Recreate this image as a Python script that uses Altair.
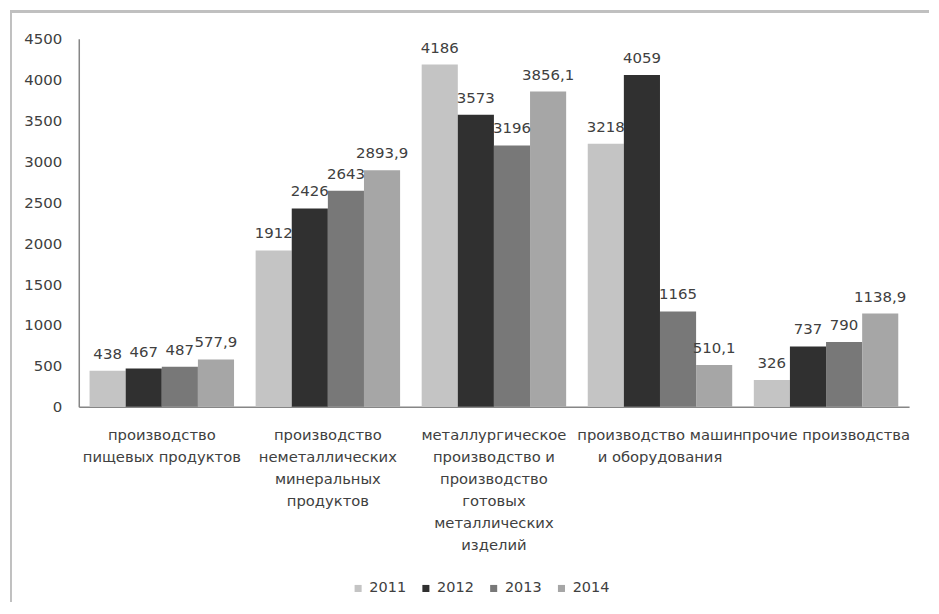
import altair as alt
import pandas as pd

FONT = "DejaVu Sans"

categories = [
    "производство|пищевых продуктов",
    "производство|неметаллических|минеральных|продуктов",
    "металлургическое|производство и|производство|готовых|металлических|изделий",
    "производство машин|и оборудования",
    "прочие производства",
]
years = ["2011", "2012", "2013", "2014"]
v2011 = [438, 1912, 4186, 3218, 326]
v2012 = [467, 2426, 3573, 4059, 737]
v2013 = [487, 2643, 3196, 1165, 790]
v2014 = [577.9, 2893.9, 3856.1, 510.1, 1138.9]
colors = ["#c4c4c4", "#303030", "#787878", "#a6a6a6"]
y_ticks = [0, 500, 1000, 1500, 2000, 2500, 3000, 3500, 4000, 4500]

rows = []
for yr, vals in zip(years, [v2011, v2012, v2013, v2014]):
    for c, v in zip(categories, vals):
        rows.append({"cat": c, "year": yr, "value": v})
df = pd.DataFrame(rows)

W, H = 833, 369

base = alt.Chart(df).encode(
    x=alt.X(
        "cat:N",
        sort=categories,
        title=None,
        scale=alt.Scale(paddingInner=0.13, paddingOuter=0.065),
        axis=alt.Axis(
            labelExpr="split(datum.label, '|')",
            labelAngle=0,
            labelFont=FONT,
            labelFontSize=14.8,
            labelColor="#404040",
            labelLineHeight=22,
            labelPadding=21,
            labelLimit=0,
            labelOverlap=False,
            labelBound=False,
            ticks=False,
            tickSize=0,
            domainColor="#868686",
            domainWidth=1.5,
            grid=False,
        ),
    ),
    xOffset=alt.XOffset("year:N", sort=years, scale=alt.Scale(paddingInner=0, paddingOuter=0)),
    y=alt.Y(
        "value:Q",
        title=None,
        scale=alt.Scale(domain=[0, 4500], nice=False),
        axis=alt.Axis(
            values=y_ticks,
            format="d",
            labelFont=FONT,
            labelFontSize=15,
            labelColor="#404040",
            labelPadding=17,
            ticks=False,
            tickSize=0,
            domainColor="#868686",
            domainWidth=1.5,
            grid=False,
        ),
    ),
)

bars = base.mark_bar().encode(
    color=alt.Color(
        "year:N",
        sort=years,
        title=None,
        scale=alt.Scale(domain=years, range=colors),
        legend=alt.Legend(
            orient="none",
            legendX=273,
            legendY=544,
            direction="horizontal",
            symbolType="square",
            symbolSize=50,
            symbolStrokeWidth=0,
            labelFont=FONT,
            labelFontSize=14.5,
            labelColor="#404040",
            columnPadding=12,
            labelOffset=4,
        ),
    )
)

labels = base.mark_text(
    baseline="bottom", dy=-9, fontSize=15, font=FONT, color="#404040"
).transform_calculate(
    lbl="replace(format(datum.value, '.1~f'), '.', ',')"
).encode(text="lbl:N")

frame_df = pd.DataFrame({"k": [0]})
left_rule = alt.Chart(frame_df).mark_rule(color="#c0c0c0", strokeWidth=2).encode(
    x=alt.value(-68), y=alt.value(-29), y2=alt.value(565)
)
top_rule = alt.Chart(frame_df).mark_rule(color="#c0c0c0", strokeWidth=3).encode(
    x=alt.value(-69), x2=alt.value(853), y=alt.value(-27.5)
)

chart = (
    alt.layer(left_rule, top_rule, bars, labels)
    .properties(width=W, height=H, padding=0, background="white")
    .configure_view(strokeWidth=0)
)

chart.save("out.html", embed_options={"renderer": "svg", "actions": False})
